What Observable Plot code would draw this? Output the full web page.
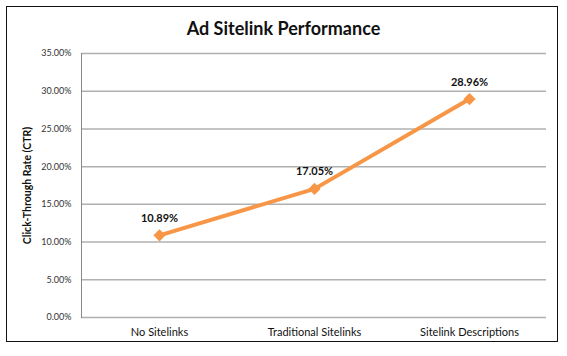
<!DOCTYPE html>
<html>
<head>
<meta charset="utf-8">
<script src="https://cdn.jsdelivr.net/npm/d3@7"></script>
<script src="https://cdn.jsdelivr.net/npm/@observablehq/plot@0.6"></script>
<style>
  html, body { margin: 0; padding: 0; background: #fff; }
  body { width: 567px; height: 356px; position: relative; overflow: hidden; font-family: Lato, "Open Sans", sans-serif; }
  #frame { position: absolute; left: 6px; top: 6px; width: 552px; height: 336px; border: 1.5px solid #111; box-sizing: border-box; }
  #title { position: absolute; left: 0; top: 17px; width: 567px; text-align: center; font-size: 18px; font-weight: bold; color: #111; }
  #chart { position: absolute; left: 0; top: 0; }
  #chart svg g[aria-label="y-axis label"] text { font-weight: bold; font-size: 10.5px; fill: #111; }
</style>
</head>
<body>
<div id="frame"></div>
<div id="title">Ad Sitelink Performance</div>
<div id="chart"></div>
<script>
const categories = ["No Sitelinks", "Traditional Sitelinks", "Sitelink Descriptions"];
const ctrValues = [10.89, 17.05, 28.96];
const yTicks = [0, 5, 10, 15, 20, 25, 30, 35];

const data = categories.map((c, i) => ({category: c, ctr: ctrValues[i]}));
const orange = "#F79646";

const chart = Plot.plot({
  width: 567,
  height: 356,
  marginLeft: 81,
  marginRight: 21,
  marginTop: 53,
  marginBottom: 39,
  style: {fontFamily: "Lato, 'Open Sans', sans-serif", background: "transparent", overflow: "visible"},
  x: {type: "point", domain: categories, padding: 0.5, label: null},
  y: {domain: [0, 35], label: null},
  marks: [
    Plot.gridY(yTicks, {stroke: "#b0b0b0", strokeOpacity: 1, strokeWidth: 1.5}),
    Plot.frame({anchor: "left", stroke: "#888", strokeWidth: 1}),
    Plot.axisY(yTicks, {
      tickSize: 0, tickPadding: 10, fontSize: 9, fill: "#333",
      tickFormat: d => d.toFixed(2) + "%",
      label: "Click-Through Rate (CTR)", labelAnchor: "center", labelArrow: "none", labelOffset: 58
    }),
    Plot.axisX({tickSize: 0, tickPadding: 11, fontSize: 11, fill: "#111", label: null}),
    Plot.line(data, {x: "category", y: "ctr", stroke: orange, strokeWidth: 4, style: {filter: "drop-shadow(1px 2px 1.5px rgba(0,0,0,0.25))"}}),
    Plot.dot(data, {x: "category", y: "ctr", symbol: "diamond2", r: 5.5, fill: orange, stroke: "none"}),
    Plot.text(data, {x: "category", y: "ctr", text: d => d.ctr.toFixed(2) + "%", dy: -17, fontSize: 11, fontWeight: "bold", fill: "#111"})
  ]
});
document.getElementById("chart").append(chart);
</script>
</body>
</html>
